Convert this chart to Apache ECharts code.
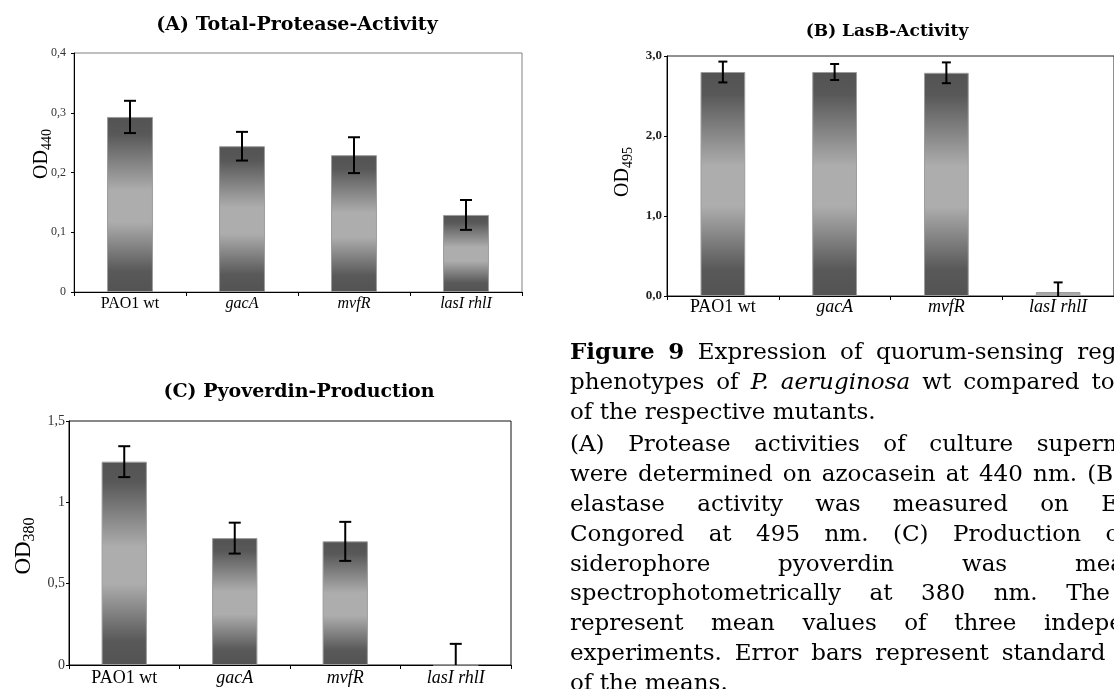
<!DOCTYPE html>
<html>
<head>
<meta charset="utf-8">
<script src="https://cdn.jsdelivr.net/npm/echarts@6/dist/echarts.min.js"></script>
<style>
  html, body { margin: 0; padding: 0; background: #fff; }
  #chart { width: 1114px; height: 689px; }
</style>
</head>
<body>
<div id="chart"></div>
<script>
// Strains compared in every panel
const categories = ['PAO1 wt', 'gacA', 'mvfR', 'lasI rhlI'];

// (A) Total protease activity (OD440): means and standard deviations
const proteaseMean = [0.293, 0.244, 0.229, 0.129];
const proteaseErr  = [0.027, 0.024, 0.030, 0.025];

// (B) LasB elastase activity (OD495)
const lasBMean = [2.80, 2.80, 2.79, 0.05];
const lasBErr  = [0.13, 0.10, 0.13, 0.12];

// (C) Pyoverdin production (OD380)
const pyoMean = [1.25, 0.78, 0.76, 0];
const pyoErr  = [0.095, 0.095, 0.12, 0.13];

// Value-axis tick labels (decimal comma)
const ticksA = ['0', '0,1', '0,2', '0,3', '0,4'];
const ticksB = ['0,0', '1,0', '2,0', '3,0'];
const ticksC = ['0', '0,5', '1', '1,5'];

// Panel titles and axis titles
const panelTitles = ['(A) Total-Protease-Activity', '(B) LasB-Activity', '(C) Pyoverdin-Production'];
const axisTitles = [['OD', '440'], ['OD', '495'], ['OD', '380']];

// Figure legend, one entry per printed line (**bold**, _italic_)
const captionLines = [
  '**Figure 9** Expression of quorum-sensing regulated',
  'phenotypes of _P. aeruginosa_ wt compared to those',
  'of the respective mutants.',
  '(A) Protease activities of culture supernatants',
  'were determined on azocasein at 440 nm. (B) LasB',
  'elastase activity was measured on Elastin-',
  'Congored at 495 nm. (C) Production of the',
  'siderophore pyoverdin was measured',
  'spectrophotometrically at 380 nm. The data',
  'represent mean values of three independent',
  'experiments. Error bars represent standard deviations',
  'of the means.'
];
const paragraphEnds = [2, 11];

// ---------------------------------------------------------------------------
const SERIF = '"Liberation Serif", "Times New Roman", serif';
const HEAVY = '"DejaVu Serif", serif';

const barGradient = {
  type: 'linear', x: 0, y: 0, x2: 0, y2: 1,
  colorStops: [
    { offset: 0.00, color: '#535353' },
    { offset: 0.10, color: '#585858' },
    { offset: 0.42, color: '#adadad' },
    { offset: 0.60, color: '#adadad' },
    { offset: 0.88, color: '#595959' },
    { offset: 1.00, color: '#535353' }
  ]
};

const panels = [
  { grid: { left: 74, top: 53, width: 448, height: 239 }, max: 0.4, step: 0.1, ticks: ticksA,
    mean: proteaseMean, err: proteaseErr, border: '#808080',
    tickFont: { fontSize: 12, color: '#333', fontWeight: 'normal' }, tickMargin: 8,
    catFont: 16, catMargin: 4, cap: 6, barWidth: '41%' },
  { grid: { left: 667, top: 56, width: 454, height: 240 }, max: 3, step: 1, ticks: ticksB,
    mean: lasBMean, err: lasBErr, border: '#222',
    tickFont: { fontSize: 13, color: '#222', fontWeight: 'bold' }, tickMargin: 5,
    catFont: 18, catMargin: 2, cap: 4.5, barWidth: '40%' },
  { grid: { left: 69, top: 421, width: 442, height: 244 }, max: 1.5, step: 0.5, ticks: ticksC,
    mean: pyoMean, err: pyoErr, border: '#111',
    tickFont: { fontSize: 14, color: '#333', fontWeight: 'normal' }, tickMargin: 4,
    catFont: 18, catMargin: 4, cap: 6, barWidth: '41%' }
];

const grids = [], xAxes = [], yAxes = [], series = [];

panels.forEach((p, gi) => {
  grids.push(Object.assign({
    show: true, borderColor: p.border, borderWidth: 1, backgroundColor: 'transparent'
  }, p.grid));

  xAxes.push({
    type: 'category', gridIndex: gi, data: categories, boundaryGap: true,
    axisLine: { lineStyle: { color: '#000', width: 1 } },
    axisTick: { show: true, inside: false, length: 4, lineStyle: { color: '#000' } },
    axisLabel: {
      margin: p.catMargin,
      formatter: (v, i) => (i === 0 ? '{n|' + v + '}' : '{i|' + v + '}'),
      rich: {
        n: { fontFamily: SERIF, fontSize: p.catFont, color: '#000' },
        i: { fontFamily: SERIF, fontSize: p.catFont, color: '#000', fontStyle: 'italic' }
      }
    },
    splitLine: { show: false }
  });

  yAxes.push({
    type: 'value', gridIndex: gi, min: 0, max: p.max, interval: p.step,
    axisLine: { show: true, lineStyle: { color: '#000', width: 1 } },
    axisTick: { show: true, inside: false, length: 3, lineStyle: { color: '#000' } },
    axisLabel: Object.assign({
      fontFamily: SERIF, margin: p.tickMargin,
      formatter: v => p.ticks[Math.round(v / p.step)]
    }, p.tickFont),
    splitLine: { show: false }
  });

  series.push({
    type: 'bar', xAxisIndex: gi, yAxisIndex: gi, barWidth: p.barWidth,
    data: p.mean,
    itemStyle: {
      // very short bars read as a flat light-grey slab
      color: params => (params.value / p.max < 0.05 ? '#a9a9a9' : barGradient),
      borderColor: '#9c9c9c', borderWidth: 1
    },
    silent: true
  });

  series.push({
    type: 'custom', xAxisIndex: gi, yAxisIndex: gi, z: 10, silent: true,
    data: p.mean.map((m, i) => [i, m, p.err[i]]),
    encode: { x: 0, y: 1 },
    renderItem: (params, api) => {
      const i = api.value(0), m = api.value(1), e = api.value(2);
      const lowRaw = m - e;
      const top = api.coord([i, m + e]);
      const bot = api.coord([i, Math.max(lowRaw, 0)]);
      const st = { stroke: '#000', lineWidth: 2 };
      const kids = [
        { type: 'line', shape: { x1: top[0], y1: top[1], x2: bot[0], y2: bot[1] }, style: st },
        { type: 'line', shape: { x1: top[0] - p.cap, y1: top[1], x2: top[0] + p.cap, y2: top[1] }, style: st }
      ];
      if (lowRaw >= 0) {
        kids.push({ type: 'line', shape: { x1: bot[0] - p.cap, y1: bot[1], x2: bot[0] + p.cap, y2: bot[1] }, style: st });
      }
      return { type: 'group', children: kids };
    }
  });
});

// ---------------------------------------------------------------------------
// Titles, rotated y-axis titles with subscripts, and the legend text
const graphics = [];

const titleSpecs = [
  { x: 297, y: 25, size: 19 },
  { x: 887, y: 32, size: 17 },
  { x: 299, y: 392, size: 19 }
];
panelTitles.forEach((t, k) => {
  graphics.push({
    type: 'text', x: titleSpecs[k].x, y: titleSpecs[k].y, silent: true,
    style: { text: t, fontFamily: HEAVY, fontWeight: 'bold', fontSize: titleSpecs[k].size,
             fill: '#000', align: 'center', verticalAlign: 'middle' }
  });
});

const yTitleSpecs = [
  { x: 42, y: 154, big: 20, small: 14, pad: 10 },
  { x: 623, y: 172, big: 20, small: 14, pad: 10 },
  { x: 24, y: 546, big: 23, small: 16, pad: 11 }
];
axisTitles.forEach((t, k) => {
  const s = yTitleSpecs[k];
  graphics.push({
    type: 'text', x: s.x, y: s.y, rotation: Math.PI / 2, silent: true,
    style: {
      text: '{a|' + t[0] + '}{b|' + t[1] + '}',
      align: 'center', verticalAlign: 'middle',
      rich: {
        a: { fontFamily: SERIF, fontSize: s.big, fill: '#000' },
        b: { fontFamily: SERIF, fontSize: s.small, fill: '#000', padding: [s.pad, 0, 0, 0] }
      }
    }
  });
});

// Justified legend block
const CAP_LEFT = 570, CAP_WIDTH = 620, CAP_TOP = 353, CAP_LINE = 29.8, CAP_PARA = 3, CAP_SIZE = 23;
const measure = document.createElement('canvas').getContext('2d');
function fontOf(kind) {
  return (kind === 'i' ? 'italic ' : '') + (kind === 'b' ? 'bold ' : '') + CAP_SIZE + 'px ' + HEAVY;
}
function parseLine(s) {
  const out = [];
  let mode = 'n';
  s.split(' ').forEach(w => {
    let t = w, k = mode, close = false;
    if (t.startsWith('**')) { t = t.slice(2); k = mode = 'b'; }
    else if (t.startsWith('_')) { t = t.slice(1); k = mode = 'i'; }
    if (t.endsWith('**')) { t = t.slice(0, -2); close = true; }
    else if (t.endsWith('_')) { t = t.slice(0, -1); close = true; }
    out.push({ t, k });
    if (close) mode = 'n';
  });
  return out;
}
measure.font = fontOf('n');
const spaceW = measure.measureText(' ').width;
const looseGap = CAP_SIZE * 0.56;   // spacing used when a line runs past the block width

let yLine = CAP_TOP;
captionLines.forEach((line, li) => {
  const words = parseLine(line);
  words.forEach(w => { measure.font = fontOf(w.k); w.w = measure.measureText(w.t).width; });
  const total = words.reduce((a, w) => a + w.w, 0);
  const justify = paragraphEnds.indexOf(li) < 0 && words.length > 1;
  let gap = spaceW;
  if (justify) {
    const g = (CAP_WIDTH - total) / (words.length - 1);
    gap = g >= spaceW ? g : looseGap;
  }
  let x = CAP_LEFT;
  words.forEach(w => {
    graphics.push({
      type: 'text', x: x, y: yLine, silent: true,
      style: {
        text: w.t, fontFamily: HEAVY, fontSize: CAP_SIZE,
        fontWeight: w.k === 'b' ? 'bold' : 'normal',
        fontStyle: w.k === 'i' ? 'italic' : 'normal',
        fill: '#000', align: 'left', verticalAlign: 'middle'
      }
    });
    x += w.w + gap;
  });
  yLine += CAP_LINE + (paragraphEnds.indexOf(li) >= 0 ? CAP_PARA : 0);
});

const chart = echarts.init(document.getElementById('chart'), null, { renderer: 'canvas' });
chart.setOption({
  animation: false,
  backgroundColor: '#fff',
  grid: grids,
  xAxis: xAxes,
  yAxis: yAxes,
  series: series,
  graphic: graphics
});
</script>
</body>
</html>
